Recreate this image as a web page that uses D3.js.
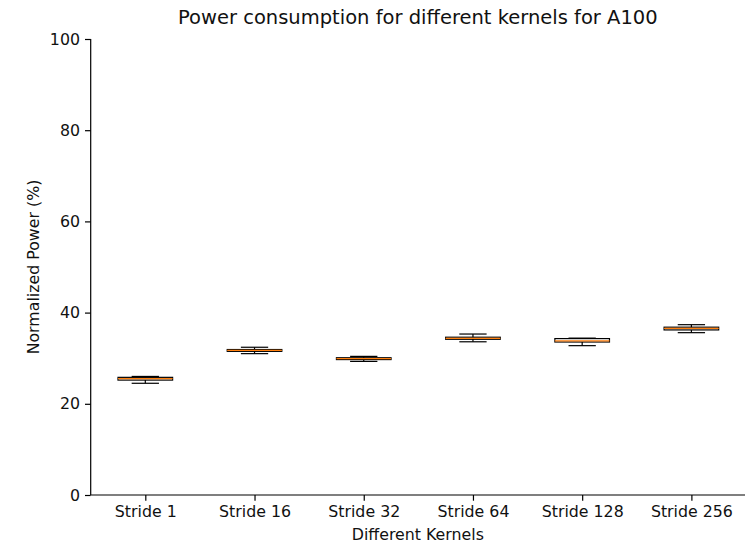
<!DOCTYPE html>
<html>
<head>
<meta charset="utf-8">
<script src="https://cdn.jsdelivr.net/npm/d3@7"></script>
<style>
  html, body { margin: 0; padding: 0; background: #fff; }
  svg { display: block; font-family: "DejaVu Sans", sans-serif; }
</style>
</head>
<body>
<svg id="chart" width="745" height="544"></svg>
<script>
// Kernels measured
const categories = ["Stride 1", "Stride 16", "Stride 32", "Stride 64", "Stride 128", "Stride 256"];
// Box statistics, normalized power (%)
const whiskerLow = [24.5, 31.0, 29.3, 33.6, 32.75, 35.6];
const q1         = [25.2, 31.5, 29.7, 34.15, 33.55, 36.2];
const median     = [25.5, 31.7, 29.9, 34.35, 33.8, 36.55];
const q3         = [25.8, 31.9, 30.1, 34.6, 34.3, 36.8];
const whiskerHigh = [26.0, 32.4, 30.4, 35.3, 34.4, 37.35];
const yTicks = [0, 20, 40, 60, 80, 100];

const svg = d3.select("#chart");
const margin = { left: 90.7, right: -1, top: 39, bottom: 49 };
const W = 745, H = 544;

const x = d3.scalePoint()
  .domain(categories)
  .range([margin.left, W - margin.right])
  .padding(0.5);
const step = x.step();

const y = d3.scaleLinear()
  .domain([0, 100])
  .range([H - margin.bottom, margin.top]);

const rows = categories.map((c, i) => ({
  c, lo: whiskerLow[i], q1: q1[i], med: median[i], q3: q3[i], hi: whiskerHigh[i]
}));

// Axes
const xAxis = svg.append("g")
  .attr("transform", `translate(0,${y(0)})`)
  .call(d3.axisBottom(x).tickSize(5.7).tickPadding(5));
const yAxis = svg.append("g")
  .attr("transform", `translate(${margin.left},0)`)
  .call(d3.axisLeft(y).tickValues(yTicks).tickSize(5.7).tickPadding(5));

[xAxis, yAxis].forEach(g => {
  g.selectAll("path.domain").attr("stroke", "#000").attr("stroke-width", 1.2);
  g.selectAll(".tick line").attr("stroke", "#000").attr("stroke-width", 1.2);
  g.selectAll(".tick text")
    .attr("fill", "#111")
    .style("font-family", "DejaVu Sans, sans-serif")
    .style("font-size", "15.8px");
});
xAxis.select("path.domain").attr("d", `M${margin.left},0H${W + 2}`);
yAxis.select("path.domain").attr("d", `M0,${y(0)}V${y(100)}`);

// Boxes
const boxes = svg.append("g").selectAll("g").data(rows).join("g");
const bw = step * 0.5, cw = step * 0.25;
const lw = 1.2;

boxes.append("line")
  .attr("x1", d => x(d.c)).attr("x2", d => x(d.c))
  .attr("y1", d => y(d.lo)).attr("y2", d => y(d.q1))
  .attr("stroke", "#000").attr("stroke-width", lw);
boxes.append("line")
  .attr("x1", d => x(d.c)).attr("x2", d => x(d.c))
  .attr("y1", d => y(d.q3)).attr("y2", d => y(d.hi))
  .attr("stroke", "#000").attr("stroke-width", lw);
boxes.append("line")
  .attr("x1", d => x(d.c) - cw / 2).attr("x2", d => x(d.c) + cw / 2)
  .attr("y1", d => y(d.lo)).attr("y2", d => y(d.lo))
  .attr("stroke", "#000").attr("stroke-width", lw);
boxes.append("line")
  .attr("x1", d => x(d.c) - cw / 2).attr("x2", d => x(d.c) + cw / 2)
  .attr("y1", d => y(d.hi)).attr("y2", d => y(d.hi))
  .attr("stroke", "#000").attr("stroke-width", lw);
boxes.append("rect")
  .attr("x", d => x(d.c) - bw / 2).attr("width", bw)
  .attr("y", d => y(d.q3)).attr("height", d => y(d.q1) - y(d.q3))
  .attr("fill", "none").attr("stroke", "#000").attr("stroke-width", lw);
boxes.append("line")
  .attr("x1", d => x(d.c) - bw / 2).attr("x2", d => x(d.c) + bw / 2)
  .attr("y1", d => y(d.med)).attr("y2", d => y(d.med))
  .attr("stroke", "#ff7f0e").attr("stroke-width", lw);

// Titles
svg.append("text")
  .attr("x", (margin.left + W) / 2).attr("y", 24)
  .attr("text-anchor", "middle")
  .attr("fill", "#111")
  .style("font-size", "19.5px")
  .text("Power consumption for different kernels for A100");
svg.append("text")
  .attr("x", (margin.left + W) / 2).attr("y", 540)
  .attr("text-anchor", "middle")
  .attr("fill", "#111")
  .style("font-size", "15.8px")
  .text("Different Kernels");
svg.append("text")
  .attr("transform", `translate(39,${(y(0) + y(100)) / 2}) rotate(-90)`)
  .attr("text-anchor", "middle")
  .attr("fill", "#111")
  .style("font-size", "15.8px")
  .text("Normalized Power (%)");
</script>
</body>
</html>
